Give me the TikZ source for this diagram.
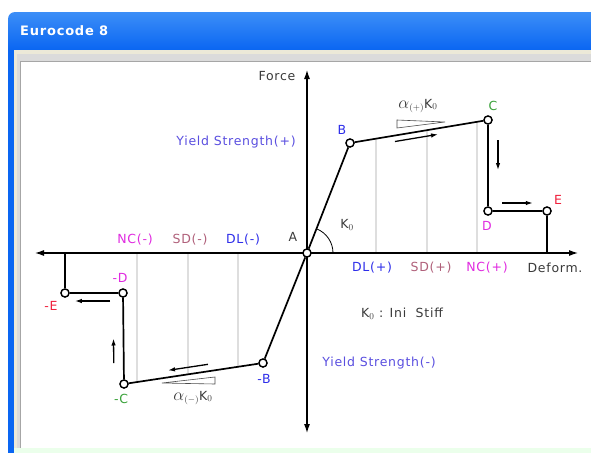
\documentclass[tikz,border=0pt]{standalone}
\usepackage{fontspec}
\setmainfont{DejaVu Sans}[LetterSpace=6]
\usetikzlibrary{arrows.meta,calc}
\definecolor{titletop}{HTML}{3C8EF7}
\definecolor{titlemid}{HTML}{0058E8}
\definecolor{titlebot}{HTML}{0A66F2}
\definecolor{winface}{HTML}{ECE9D8}
\definecolor{dlblue}{HTML}{2E2EEA}
\definecolor{ysblue}{HTML}{5A4FE0}
\definecolor{sdrose}{HTML}{B0607A}
\definecolor{ncmag}{HTML}{E02AE0}
\definecolor{ptgreen}{HTML}{3AA23A}
\definecolor{ptred}{HTML}{F0203C}
\definecolor{txtgray}{HTML}{3A3A3A}
\newcommand{\bigalpha}{{\fontsize{17}{17}\selectfont$\alpha$}}

\begin{document}
\begin{tikzpicture}[x=1pt, y=-1pt,
    lbl/.style={font=\fontsize{12.5}{14}\selectfont, inner sep=1pt},
    pt/.style={circle, draw, line width=1.3pt, fill=white, inner sep=0pt, minimum size=8pt},
    curve/.style={line width=1.7pt},
    axis/.style={line width=1.1pt, {Latex[length=9pt,width=6pt]}-{Latex[length=9pt,width=6pt]}},
    flow/.style={line width=1.3pt, -{Latex[length=7pt,width=4.5pt]}},
    level/.style={line width=2.5pt, black!13},
    wedge/.style={line width=0.6pt, black!70}
  ]
    \useasboundingbox (0,0) rectangle (591,453);
    \fill[white] (0,0) rectangle (591,453);
    % window
    \shade[top color=titletop, middle color=titlemid, bottom color=titlebot]
      (8,50) [rounded corners=7pt] -- (8,12) [sharp corners] -- (591,12) -- (591,50) -- cycle;
    \fill[titlebot] (8,50) rectangle (14,453);
    \fill[winface] (14,50) rectangle (591,453);
    \fill[black!14] (17,54) rectangle (591,62);
    \fill[black!14] (17,54) rectangle (21,448);
    \draw[black!35, line width=1pt] (20.5,448) -- (20.5,61.5) -- (591,61.5);
    \fill[white] (21,62) rectangle (591,448);
    \fill[green!8] (14,448) rectangle (591,453);
    \node[font=\fontsize{13}{15}\bfseries\selectfont, text=white, anchor=west, inner sep=0pt]
      (title) at (20,31) {Eurocode 8};

    \coordinate (xl) at (35,253);
    \coordinate (xr) at (578,253);
    \coordinate (yt) at (307,70);
    \coordinate (yb) at (307,433);

    \node[pt] (A) at (307,253) {};
    \node[pt] (B) at (350,143) {};
    \node[pt] (C) at (488,120) {};
    \node[pt] (D) at (488,211) {};
    \node[pt] (E) at (547,211) {};
    \node[pt] (nB) at (263,363) {};
    \node[pt] (nC) at (124,384) {};
    \node[pt] (nD) at (123,293) {};
    \node[pt] (nE) at (65,293) {};

    % grey levels
    \foreach \t in {0.188,0.558,0.92} {
      \path ($(B)!\t!(C)$) coordinate (g);
      \draw[level] (g) -- (g |- A);
    }
    \foreach \t in {0.18,0.54,0.906} {
      \path ($(nB)!\t!(nC)$) coordinate (g);
      \draw[level] (g) -- (g |- A);
    }

    \draw[axis] (xl) -- (xr);
    \draw[axis] (yb) -- (yt);
    \draw[line width=0.8pt] ($(A)+(26,0)$) arc[start angle=0, end angle=-68, radius=26];

    \draw[curve] (nE) -- (nE |- A);
    \draw[curve] (E) -- (E |- A);
    \foreach \a/\b in {nE/nD, nD/nC, nC/nB, nB/A, A/B, B/C, C/D, D/E}
      \draw[curve] (\a) -- (\b);
    \foreach \p in {A, B, C, D, E, nB, nC, nD, nE}
      \node[pt] at (\p) {};

    \draw[flow] ($(B)!0.326!(C)+(0,6)$) -- ($(B)!0.638!(C)+(0,6)$);
    \draw[flow] ($(C)!0.22!(D)+(10,0)$) -- ($(C)!0.55!(D)+(10,0)$);
    \draw[flow] ($(D)!0.24!(E)+(0,-8)$) -- ($(D)!0.76!(E)+(0,-8)$);
    \draw[flow] ($(nB)!0.396!(nC)+(0,-7)$) -- ($(nB)!0.683!(nC)+(0,-7)$);
    \draw[flow] ($(nC)!0.23!(nD)+(-10,0)$) -- ($(nC)!0.5!(nD)+(-10,0)$);
    \draw[flow] ($(nD)!0.22!(nE)+(0,8)$) -- ($(nD)!0.83!(nE)+(0,8)$);

    \draw[wedge] (397,120) -- (397,128) -- (445,122) -- cycle;
    \draw[wedge] (162,383) -- (215,377) -- (215,384) -- cycle;

    \node[lbl, text=txtgray] (force) at (277,76) {Force};
    \node[lbl, text=txtgray] (deform) at (555,268) {Deform.};
    \node[lbl, text=txtgray] (lA) at (293,237) {A};
    \node[lbl, text=txtgray] (lK) at (347,225) {K$_0$};
    \node[lbl, text=txtgray] (stiff) at (402,314) {K$_0$ : Ini \ Stiff};
    \node[lbl, text=ysblue] (ysp) at (236,142) {Yield Strength(+)};
    \node[lbl, text=ysblue] (ysn) at (379,363) {Yield Strength(-)};
    \node[lbl, text=dlblue] (lB) at (342,130) {B};
    \node[lbl, text=ptgreen] (lC) at (493,106) {C};
    \node[lbl, text=ncmag] (lD) at (487,226) {D};
    \node[lbl, text=ptred] (lE) at (558,200) {E};
    \node[lbl, text=dlblue] (lnB) at (264,379) {-B};
    \node[lbl, text=ptgreen] (lnC) at (121,399) {-C};
    \node[lbl, text=ncmag] (lnD) at (120,278) {-D};
    \node[lbl, text=ptred] (lnE) at (51,306) {-E};
    \node[lbl, text=dlblue] (dlp) at (372,268) {DL(+)};
    \node[lbl, text=sdrose] (sdp) at (431,268) {SD(+)};
    \node[lbl, text=ncmag] (ncp) at (487,268) {NC(+)};
    \node[lbl, text=ncmag] (ncn) at (135,240) {NC(-)};
    \node[lbl, text=sdrose] (sdn) at (190,240) {SD(-)};
    \node[lbl, text=dlblue] (dln) at (243,240) {DL(-)};
    \node[lbl, text=txtgray] (alp) at (418,106) {\bigalpha$_{(+)}$K$_0$};
    \node[lbl, text=txtgray] (aln) at (193,398) {\bigalpha$_{(-)}$K$_0$};
  \end{tikzpicture}
\end{document}
